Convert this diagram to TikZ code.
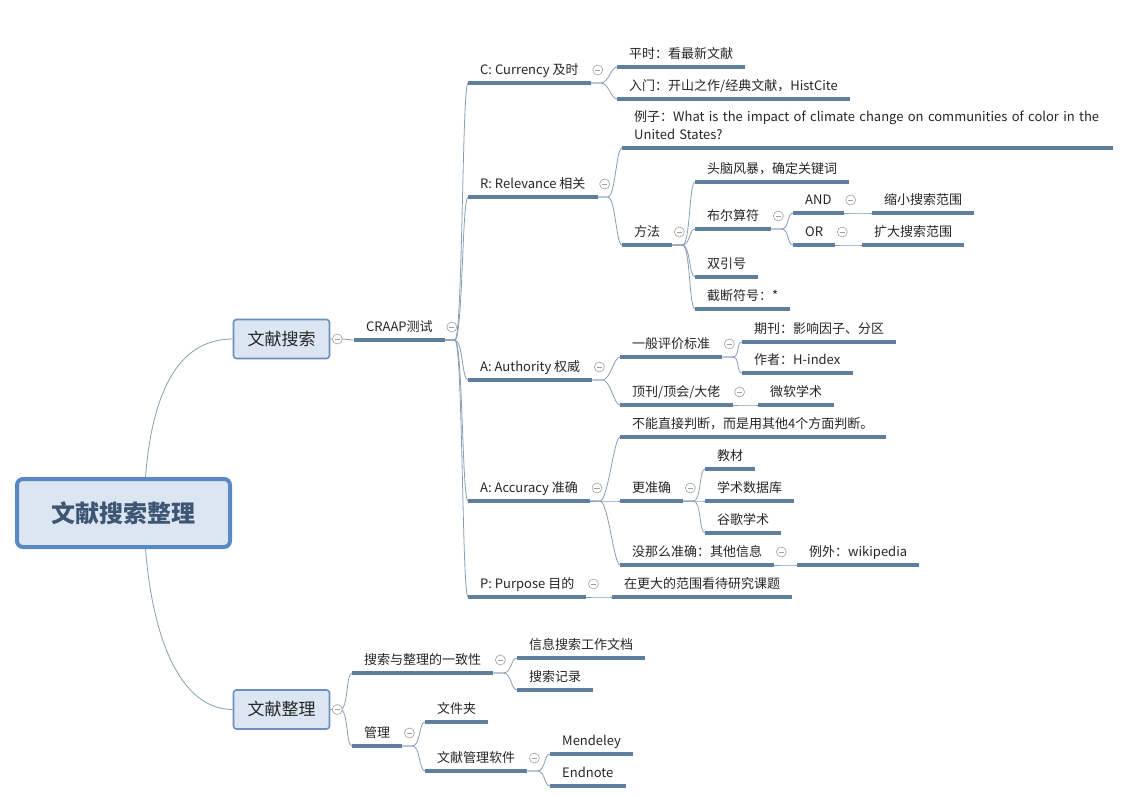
\documentclass[tikz,border=0pt]{standalone}
\usepackage{fontspec}
\setmainfont{Noto Sans CJK SC}
\usepackage{xcolor}
\usetikzlibrary{positioning}

\definecolor{ulc}{HTML}{5F7F9F}
\definecolor{linkc}{HTML}{8A9DB5}
\definecolor{boxfill}{HTML}{DCE6F2}
\definecolor{rootborder}{HTML}{5A88C2}
\definecolor{mainborder}{HTML}{6D8FBF}
\definecolor{roottext}{HTML}{3E5674}
\definecolor{foldc}{HTML}{A0A0A0}

\begin{document}
\begin{tikzpicture}[x=1pt, y=-1pt,
    font=\fontsize{13}{18}\selectfont, text=black!85,
    root/.style={rectangle, draw=rootborder, line width=4pt, fill=boxfill, rounded corners=6pt, minimum width=213pt, minimum height=68pt, font=\fontsize{24}{28}\selectfont\bfseries, text=roottext},
    main/.style={rectangle, draw=mainborder, line width=1.6pt, fill=boxfill, rounded corners=3pt, minimum width=96pt, minimum height=39pt, font=\fontsize{17}{20}\selectfont},
    topic/.style={anchor=south west, inner xsep=12pt, inner ysep=5pt, text height=10pt, text depth=3pt, append after command={(\tikzlastnode.south west) edge[uline] (\tikzlastnode.south east)}},
    uline/.style={draw=ulc, line width=3.4pt},
    branch/.style={draw=linkc, line width=0.8pt, to path={-- ++(10,0) .. controls +(8,0) and +(-6,0) .. (\tikztotarget)}},
    link/.style={draw=linkc, line width=0.8pt},
    fold/.style={circle, draw=foldc, fill=white, line width=0.6pt, inner sep=0pt, minimum size=10pt, path picture={\draw[foldc, line width=0.6pt] ([xshift=-2.6pt]path picture bounding box.center) -- ([xshift=2.6pt]path picture bounding box.center);}}
]
    \path[use as bounding box, fill=white] (0,0) rectangle (1136,797);

    % root and first level
    \node[root] (root) at (123.5,513) {文献搜索整理};
    \node[main] (search) at (281.5,339) {文献搜索};
    \node[main] (sortbox) at (281.5,709.5) {文献整理};
    \draw[link] ([xshift=22pt]root.north) .. controls +(7,-88) and +(-53,0) .. (search.west);
    \draw[link] ([xshift=22pt]root.south) .. controls +(7,88) and +(-53,0) .. (sortbox.west);

    % CRAAP
    \node[topic] (craap) at (354,340) {CRAAP测试};
    \node[topic] (cur) at (468,83) {C: Currency 及时};
    \node[topic] (rel) at (468,197) {R: Relevance 相关};
    \node[topic] (auth) at (468,380) {A: Authority 权威};
    \node[topic] (acc) at (468,501) {A: Accuracy 准确};
    \node[topic] (purp) at (468,597) {P: Purpose 目的};

    \node[topic] (pingshi) at (617,67) {平时：看最新文献};
    \node[topic] (rumen) at (617,99) {入门：开山之作/经典文献，HistCite};

    \node[topic, text width=467pt, align=left, text depth=21pt] (eg) at (622,148) {\mbox{例子：What is the impact of climate change on communities of color in the}\\United States?};
    \node[topic] (method) at (622,245) {方法};
    \node[topic] (brain) at (695,182) {头脑风暴，确定关键词};
    \node[topic] (bool) at (695,229) {布尔算符};
    \node[topic] (quote) at (695,277) {双引号};
    \node[topic] (trunc) at (695,309) {截断符号：*};
    \node[topic] (opand) at (793,213) {AND};
    \node[topic] (opor) at (793,245) {OR};
    \node[topic] (narrow) at (872,213) {缩小搜索范围};
    \node[topic] (widen) at (862,245) {扩大搜索范围};

    \node[topic] (general) at (620,357) {一般评价标准};
    \node[topic] (top) at (620,405) {顶刊/顶会/大佬};
    \node[topic] (journal) at (742,342) {期刊：影响因子、分区};
    \node[topic] (author) at (742,373) {作者：H-index};
    \node[topic] (msa) at (758,405) {微软学术};

    \node[topic] (indirect) at (620,437) {不能直接判断，而是用其他4个方面判断。};
    \node[topic] (more) at (620,501) {更准确};
    \node[topic] (less) at (620,565) {没那么准确：其他信息};
    \node[topic] (textbook) at (705,469) {教材};
    \node[topic] (database) at (705,501) {学术数据库};
    \node[topic] (google) at (705,533) {谷歌学术};
    \node[topic] (wiki) at (797,565) {例外：wikipedia};

    \node[topic] (bigger) at (612,597) {在更大的范围看待研究课题};

    % sorting
    \node[topic] (consist) at (352,673) {搜索与整理的一致性};
    \node[topic] (mgmt) at (352,746) {管理};
    \node[topic] (worklog) at (517,658) {信息搜索工作文档};
    \node[topic] (record) at (517,690) {搜索记录};
    \node[topic] (folder) at (425,722) {文件夹};
    \node[topic] (software) at (425,771) {文献管理软件};
    \node[topic] (mendeley) at (550,754) {Mendeley};
    \node[topic] (endnote) at (550,786) {Endnote};

    % connectors
    \draw[branch] (search.east) to (craap.south west);
    \draw[branch] (sortbox.east) to (consist.south west);
    \draw[branch] (sortbox.east) to (mgmt.south west);
    \foreach \a/\b in {craap/cur, craap/rel, craap/auth, craap/acc, craap/purp,
        cur/pingshi, cur/rumen, rel/eg, rel/method,
        method/brain, method/bool, method/quote, method/trunc,
        bool/opand, bool/opor, opand/narrow, opor/widen,
        auth/general, auth/top, general/journal, general/author, top/msa,
        acc/indirect, acc/more, acc/less, more/textbook, more/database, more/google, less/wiki,
        purp/bigger,
        consist/worklog, consist/record, mgmt/folder, mgmt/software,
        software/mendeley, software/endnote}
        \draw[branch] (\a.south east) to (\b.south west);

    % fold icons
    \node[fold] (search-fold) at ([xshift=7pt]search.east) {};
    \node[fold] (sortbox-fold) at ([xshift=7pt]sortbox.east) {};
    \foreach \n in {craap, cur, rel, method, bool, opand, opor, auth, general, top,
        acc, more, less, purp, consist, mgmt, software}
        \node[fold] (\n-fold) at ([shift={(7,-13)}]\n.south east) {};
\end{tikzpicture}
\end{document}
